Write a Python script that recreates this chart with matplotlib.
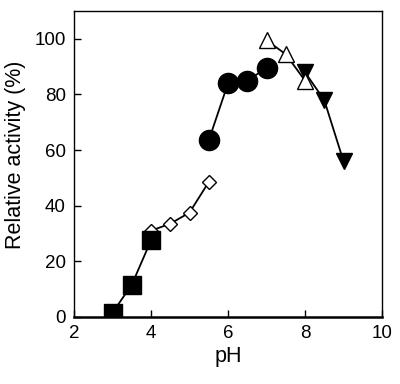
import matplotlib.pyplot as plt

plt.rcParams['font.family'] = ['Liberation Sans', 'DejaVu Sans']

# pH series
ph_sq = [3.0, 3.5, 4.0]
act_sq = [1.5, 11.5, 27.5]

ph_dia = [4.0, 4.5, 5.0, 5.5]
act_dia = [31.0, 33.5, 37.5, 48.5]

ph_circ = [5.5, 6.0, 6.5, 7.0]
act_circ = [63.5, 84.0, 85.0, 89.5]

ph_tri = [7.0, 7.5, 8.0]
act_tri = [99.5, 94.5, 85.0]

ph_dtri = [8.0, 8.5, 9.0]
act_dtri = [88.0, 78.0, 56.0]

fig = plt.figure(figsize=(4.0, 3.84), dpi=100)
ax = fig.add_axes([0.185, 0.175, 0.77, 0.796])

ax.plot(ph_dia, act_dia, '-', color='black', lw=1.3, marker='D', ms=7,
        mfc='white', mec='black', mew=1.0, zorder=2)
ax.plot(ph_sq, act_sq, '-', color='black', lw=1.3, marker='s', ms=13,
        mfc='black', mec='black', zorder=3)
ax.plot(ph_circ, act_circ, '-', color='black', lw=1.3, marker='o', ms=14.5,
        mfc='black', mec='black', zorder=3)
ax.plot(ph_dtri, act_dtri, '-', color='black', lw=1.3, marker='v', ms=12,
        mfc='black', mec='black', zorder=3)
ax.plot(ph_tri, act_tri, '-', color='black', lw=1.3, marker='^', ms=12,
        mfc='white', mec='black', mew=1.0, zorder=4)

ax.set_xlim(2, 10)
ax.set_ylim(0, 110)
ax.set_xticks([2, 4, 6, 8, 10])
ax.set_yticks([0, 20, 40, 60, 80, 100])
ax.tick_params(direction='in', length=5, width=1, labelsize=13.5)
ax.tick_params(axis='y', pad=6)
ax.tick_params(axis='x', pad=6)
for s in ax.spines.values():
    s.set_linewidth(1.0)
ax.spines['bottom'].set_linewidth(1.8)

ax.set_xlabel('pH', fontsize=15.5, labelpad=3)
ax.set_ylabel('Relative activity (%)', fontsize=15.5, labelpad=2)
ax.yaxis.set_label_coords(-0.155, 0.53)

fig.savefig('out.png', dpi=100)
